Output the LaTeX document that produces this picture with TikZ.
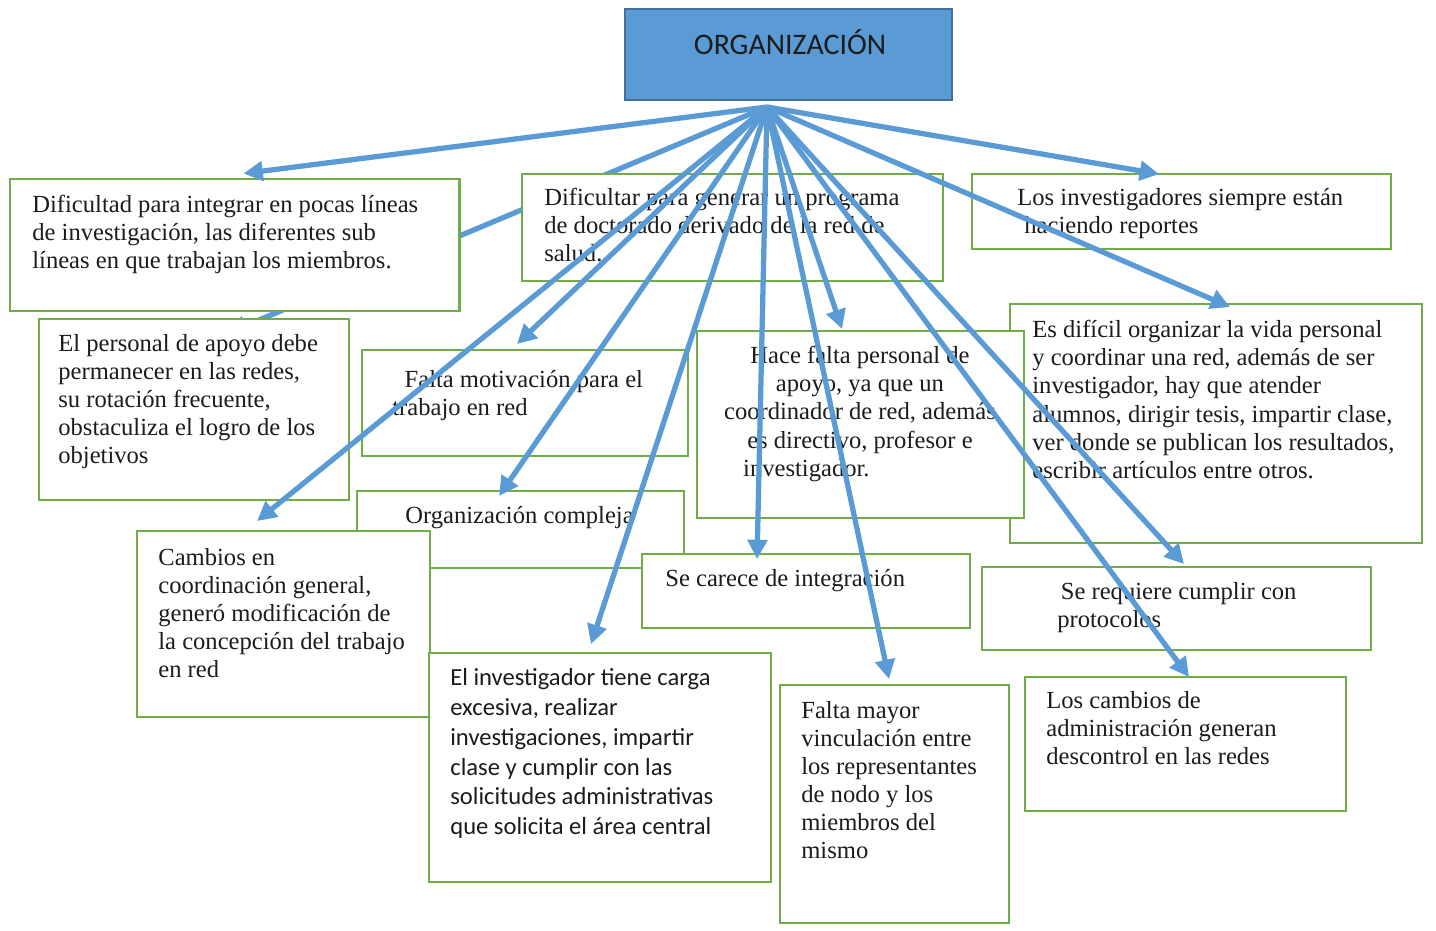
\documentclass[tikz,border=0pt]{standalone}
\usepackage{fontspec}
\setmainfont{Liberation Serif}
\newfontfamily\calibri{Carlito}
\usetikzlibrary{arrows.meta}
\usetikzlibrary{fit}
\usetikzlibrary{calc}
\definecolor{azul}{HTML}{5B9BD5}
\definecolor{azulosc}{HTML}{41719C}
\definecolor{verde}{HTML}{70AD47}
\definecolor{tinta}{HTML}{1C1C1C}
\tikzset{
    caja/.style = {draw=verde, line width=1.1pt, fill=white, inner sep=0pt},
    texto/.style = {anchor=north west, inner sep=0pt, align=left, text=tinta, font=\fontsize{14}{16}\selectfont},
    textosans/.style = {texto, font=\calibri\fontsize{14}{17}\selectfont},
    flecha/.style = {draw=azul, line width=3pt, -{Triangle[length=11pt,width=11pt]}}
}

\begin{document}
\begin{tikzpicture}[x=0.02cm, y=-0.02cm]
        \useasboundingbox (0,0) rectangle (1436,930);

        \node (org) [fill=azul, draw=azulosc, line width=0.8pt, inner sep=0pt, fit={(625,9) (952,100)}] {};
        \node (orgtxt) at (790,42) {\calibri\fontsize{17}{20}\selectfont\color{tinta}ORGANIZACIÓN};
        \coordinate (hub) at (767,107);

        % esta flecha queda debajo de las cajas
        \coordinate (persotip) at (228,333);
        \draw[flecha] (hub) -- (persotip);

        \node (dific) [caja, line width=1.7pt, fit={(10,179) (459,311)}] {};
        \node (dificultar) [caja, fit={(522,174) (943,281)}] {};
        \node (losinv) [caja, fit={(972,174) (1391,249)}] {};
        \node (perso) [caja, fit={(39,319) (349,500)}] {};
        \node (motiv) [caja, fit={(362,350) (688,456)}] {};
        \node (esdif) [caja, fit={(1010,304) (1422,543)}] {};
        \node (hace) [caja, fit={(697,331) (1024,518)}] {};
        \node (orgcomp) [caja, fit={(357,491) (684,568)}] {};
        \node (cambios) [caja, fit={(137,531) (430,717)}] {};
        \node (carece) [caja, fit={(642,554) (970,628)}] {};
        \node (requiere) [caja, fit={(982,567) (1371,650)}] {};
        \node (inves) [caja, fit={(429,653) (771,882)}] {};
        \node (mayor) [caja, fit={(780,685) (1009,923)}] {};
        \node (cambadm) [caja, fit={(1025,677) (1346,811)}] {};

        \node (dific-t) [texto] at (32,195) {Dificultad para integrar en pocas líneas\\de investigación, las diferentes sub\\líneas en que trabajan los miembros.};
        \node (dificultar-t) [texto] at (544,188) {Dificultar para generar un programa\\de doctorado derivado de la red de\\salud.};
        \node (losinv-t) [texto] at (1017,188) {Los investigadores siempre están\\\hspace*{4pt}haciendo reportes};
        \node (perso-t) [texto] at (58,334) {El personal de apoyo debe\\permanecer en las redes,\\su rotación frecuente,\\obstaculiza el logro de los\\objetivos};
        \node (motiv-t) [texto] at (392,370) {\hspace*{7pt}Falta motivación para el\\trabajo en red};
        \node (hace-t) [texto, anchor=north, align=center] at (860,346) {Hace falta personal de\\apoyo, ya que un\\coordinador de red, además\\es directivo, profesor e\\\hspace*{-61pt}investigador.};
        \node (esdif-t) [texto] at (1032,320) {Es difícil organizar la vida personal\\y coordinar una red, además de ser\\investigador, hay que atender\\alumnos, dirigir tesis, impartir clase,\\ver donde se publican los resultados,\\escribir artículos entre otros.};
        \node (orgcomp-t) [texto] at (405,506) {Organización compleja};
        \node (cambios-t) [texto] at (158,548) {Cambios en\\coordinación general,\\generó modificación de\\la concepción del trabajo\\en red};
        \node (carece-t) [texto] at (665,569) {Se carece de integración};
        \node (requiere-t) [texto] at (1057,582) {\hspace*{2pt}Se requiere cumplir con\\protocolos};
        \node (inves-t) [textosans] at (450,668) {El investigador tiene carga\\excesiva, realizar\\investigaciones, impartir\\clase y cumplir con las\\solicitudes administrativas\\que solicita el área central};
        \node (mayor-t) [texto] at (801,701) {Falta mayor\\vinculación entre\\los representantes\\de nodo y los\\miembros del\\mismo};
        \node (cambadm-t) [texto] at (1046,691) {Los cambios de\\administración generan\\descontrol en las redes};

        \draw[flecha] (hub) -- ($(dific.north west)+(235,-4)$);
        \draw[flecha] (hub) -- ($(motiv.north west)+(156,-5)$);
        \draw[flecha] (hub) -- ($(cambios.north west)+(121,-9)$);
        \draw[flecha] (hub) -- ($(orgcomp.north west)+(143,6)$);
        \draw[flecha] (hub) -- ($(inves.north west)+(163,-8)$);
        \draw[flecha] (hub) -- ($(carece.north west)+(116,6)$);
        \draw[flecha] (hub) -- ($(hace.north west)+(146,-1)$);
        \draw[flecha] (hub) -- ($(mayor.north west)+(110,-5)$);
        \draw[flecha] (hub) -- ($(losinv.north west)+(188,1)$);
        \draw[flecha] (hub) -- ($(esdif.north west)+(221,4)$);
        \draw[flecha] (hub) -- ($(requiere.north west)+(203,-2)$);
        \draw[flecha] (hub) -- ($(cambadm.north west)+(165,1)$);

    \end{tikzpicture}
\end{document}
